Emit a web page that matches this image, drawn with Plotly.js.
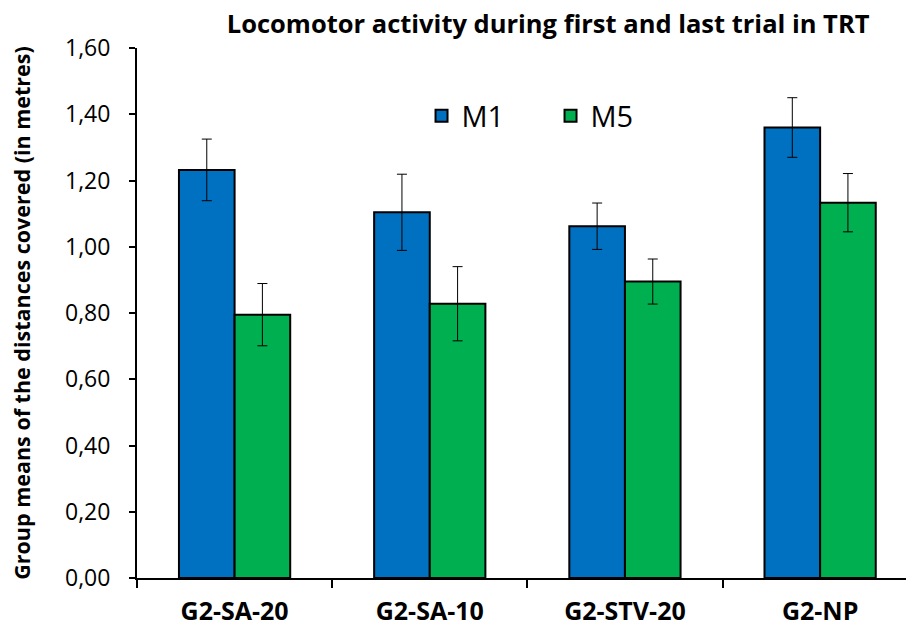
<!DOCTYPE html>
<html><head><meta charset="utf-8">
<script src="https://cdn.plot.ly/plotly-3.0.1.min.js"></script>
<style>html,body{margin:0;padding:0;background:#fff}</style>
</head><body>
<div id="chart" style="width:906px;height:632px"></div>
<script>
const categories = ["G2-SA-20", "G2-SA-10", "G2-STV-20", "G2-NP"];
const m1Values = [1.232, 1.104, 1.062, 1.360];
const m1Errors = [0.093, 0.115, 0.070, 0.090];
const m5Values = [0.795, 0.828, 0.895, 1.133];
const m5Errors = [0.094, 0.112, 0.068, 0.088];
const yTicks = [0, 0.2, 0.4, 0.6, 0.8, 1.0, 1.2, 1.4, 1.6];

const font = "Open Sans, Liberation Sans, sans-serif";
const errStyle = {type: "data", visible: true, color: "#000", thickness: 1, width: 5};

const traces = [
  {type: "bar", name: "M1", x: categories, y: m1Values,
   error_y: Object.assign({array: m1Errors}, errStyle),
   marker: {color: "#0070C0", line: {color: "#000", width: 2}}},
  {type: "bar", name: "M5", x: categories, y: m5Values,
   error_y: Object.assign({array: m5Errors}, errStyle),
   marker: {color: "#00B050", line: {color: "#000", width: 2}}}
];

const layout = {
  width: 906, height: 632,
  margin: {l: 137, r: 0, t: 48, b: 54},
  paper_bgcolor: "#fff", plot_bgcolor: "#fff",
  separators: ",.",
  barmode: "group", bargap: 0.43, bargroupgap: 0,
  showlegend: true,
  title: {text: "<b>Locomotor activity during first and last trial in TRT</b>",
          font: {family: font, size: 25.5, color: "#000"},
          x: 0.605, xanchor: "center", y: 0.962, yanchor: "middle"},
  legend: {orientation: "h", x: 0.37, xanchor: "left", y: 0.872, yanchor: "middle",
           font: {family: font, size: 29, color: "#000"}, bgcolor: "rgba(0,0,0,0)",
           entrywidth: 84, entrywidthmode: "pixels"},
  xaxis: {type: "category", range: [-0.5, 3.44], showline: true, linecolor: "#000", linewidth: 2,
          ticks: "outside", tickson: "boundaries", ticklen: 8, tickwidth: 2, tickcolor: "#000",
          ticklabelstandoff: 10,
          tickfont: {family: font, size: 25, color: "#000", weight: "bold"},
          showgrid: false, zeroline: false},
  yaxis: {range: [0, 1.6], tickvals: yTicks, tickformat: ".2f",
          showline: true, linecolor: "#000", linewidth: 2,
          ticks: "outside", ticklen: 6, tickwidth: 2, tickcolor: "#000",
          ticklabelstandoff: 14,
          tickfont: {family: font, size: 23, color: "#000"},
          showgrid: false, zeroline: false,
          title: {text: "<b>Group means of the distances covered (in metres)</b>",
                  font: {family: font, size: 21.5, color: "#000"}, standoff: 28}}
};

Plotly.newPlot("chart", traces, layout, {displayModeBar: false, staticPlot: true});
</script>
</body></html>
